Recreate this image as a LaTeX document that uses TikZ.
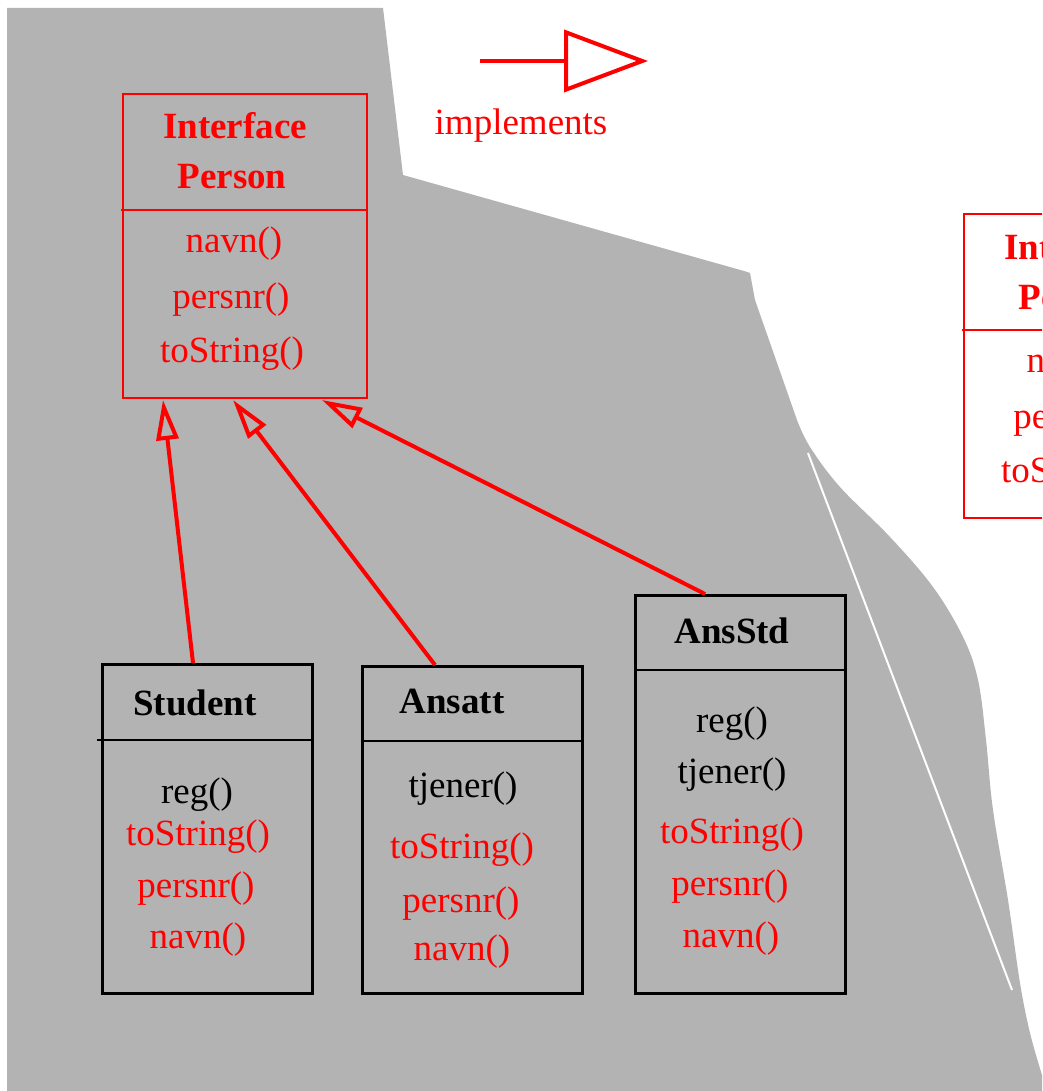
\documentclass[tikz,border=0pt]{standalone}
\usepackage{fontspec}
\setmainfont{Liberation Serif}
\usetikzlibrary{arrows.meta,calc}
\definecolor{bggray}{RGB}{179,179,179}
\definecolor{ired}{RGB}{255,0,0}

\begin{document}
\begin{tikzpicture}[x=1pt,y=-1pt,
  txt/.style={anchor=base, inner sep=0pt, font=\fontsize{37}{44}\selectfont},
  head/.style={anchor=base, inner sep=0pt, font=\fontsize{37}{44}\selectfont\bfseries},
  classbox/.style={draw=black, line width=2.5pt, anchor=north west, inner sep=0pt},
  ifacebox/.style={draw=ired, line width=2pt, anchor=north west, inner sep=0pt},
  realize/.style={draw=ired, line width=4pt, -{Triangle[open, length=40pt, width=22pt]}},
]
\useasboundingbox (0,0) rectangle (1042,1091);

% grey backdrop
\fill[bggray] (7,8) -- (383,8) -- (403,175) -- (744,271) -- (750,273) -- (755,300) -- (797,420)
  -- plot[smooth, tension=0.6] coordinates {(797,420) (810,447) (840,487) (890,537) (933,587) (963,637)
     (978,680) (986,740) (993,810) (1008,900) (1020,983) (1030,1033) (1042,1075)}
  -- (1042,1091) -- (7,1091) -- cycle;
\draw[white, line width=2pt] (808,453) -- (1012,990);

% legend
\coordinate (leg1) at (480,61);
\coordinate (leg2) at (648,61);
\draw[ired, line width=4pt, -{Triangle[open, length=84pt, width=62pt]}] (leg1) -- (leg2);
\node[txt, text=ired] (legtxt) at (521,135) {implements};

% interface Person
\node[ifacebox, minimum width=244pt, minimum height=304pt] (person) at (122,93) {};
\draw[ired, line width=2pt] ($(person.north west)+(-1,117)$) -- ($(person.north east)+(0,117)$);
\node[head, text=ired] (pI) at (235,139) {Interface};
\node[head, text=ired] (pP) at (232,189) {Person};
\node[txt, text=ired] (pn) at (234,252) {navn()};
\node[txt, text=ired] (pp) at (231,308) {persnr()};
\node[txt, text=ired] (ps) at (232,362) {toString()};

% second copy of the interface, running off the right edge
\begin{scope}
\clip (0,0) rectangle (1042,1091);
\begin{scope}[shift={(841,120)}]
\node[ifacebox, minimum width=244pt, minimum height=304pt] (person2) at (122,93) {};
\draw[ired, line width=2pt] ($(person2.north west)+(-1,117)$) -- ($(person2.north east)+(0,117)$);
\node[head, text=ired] (qI) at (235,139) {Interface};
\node[head, text=ired] (qP) at (232,189) {Person};
\node[txt, text=ired] (qn) at (234,252) {navn()};
\node[txt, text=ired] (qp) at (231,308) {persnr()};
\node[txt, text=ired] (qs) at (232,362) {toString()};
\end{scope}
\end{scope}

% class Student
\node[classbox, minimum width=210pt, minimum height=329pt] (student) at (101,663) {};
\draw[line width=2.5pt] ($(student.north west)+(-4,77)$) -- ($(student.north east)+(0,77)$);
\node[head] (sH) at (195,715) {Student};
\node[txt] (s1) at (197,803) {reg()};
\node[txt, text=ired] (s2) at (198,845) {toString()};
\node[txt, text=ired] (s3) at (196,897) {persnr()};
\node[txt, text=ired] (s4) at (198,948) {navn()};

% class Ansatt
\node[classbox, minimum width=220pt, minimum height=327pt] (ansatt) at (361,665) {};
\draw[line width=2.5pt] ($(ansatt.north west)+(0,76)$) -- ($(ansatt.north east)+(0,76)$);
\node[head] (aH) at (452,713) {Ansatt};
\node[txt] (a1) at (463,797) {tjener()};
\node[txt, text=ired] (a2) at (462,858) {toString()};
\node[txt, text=ired] (a3) at (461,912) {persnr()};
\node[txt, text=ired] (a4) at (462,960) {navn()};

% class AnsStd
\node[classbox, minimum width=210pt, minimum height=398pt] (ansstd) at (634,594) {};
\draw[line width=2.5pt] ($(ansstd.north west)+(0,76)$) -- ($(ansstd.north east)+(0,76)$);
\node[head] (dH) at (732,643) {AnsStd};
\node[txt] (d1) at (732,732) {reg()};
\node[txt] (d2) at (732,783) {tjener()};
\node[txt, text=ired] (d3) at (732,843) {toString()};
\node[txt, text=ired] (d4) at (730,895) {persnr()};
\node[txt, text=ired] (d5) at (731,947) {navn()};

% implements relations
\draw[realize] ($(student.north west)+(92,0)$) -- ($(person.south west)+(41,1)$);
\draw[realize] ($(ansatt.north west)+(74,0)$) -- ($(person.south west)+(111,1)$);
\draw[realize] ($(ansstd.north west)+(71,0)$) -- ($(person.south west)+(200,1)$);
\end{tikzpicture}
\end{document}
